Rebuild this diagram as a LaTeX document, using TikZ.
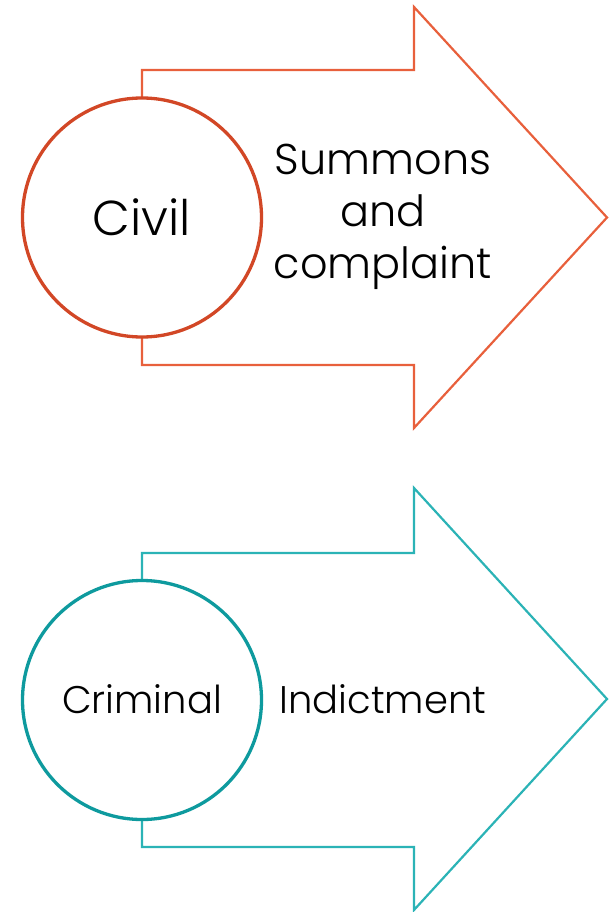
\documentclass[tikz,border=0pt]{standalone}
\usepackage{fontspec}
\setmainfont{Poppins Light}
\definecolor{civcirc}{HTML}{D24726}
\definecolor{civarrow}{HTML}{E8603C}
\definecolor{crimcirc}{HTML}{0E9A9E}
\definecolor{crimarrow}{HTML}{2BB3B6}
\begin{document}
\begin{tikzpicture}[x=1pt,y=-1pt,
  arrowshape/.style={line width=2.2pt, line join=miter, fill=white},
  circ/.style={circle, draw, line width=3.3pt, fill=white, minimum size=239pt, inner sep=0pt},
  lbl/.style={text=black, align=center, inner sep=0pt}]
\useasboundingbox (0,0) rectangle (608,912);
% civil
\draw[arrowshape, draw=civarrow] (142,70) -- (414,70) -- (414,7) -- (607,217.5) -- (414,428) -- (414,365) -- (142,365) -- cycle;
\node[circ, draw=civcirc] (civil) at (142,217.5) {};
\node[lbl, font=\fontsize{49}{56}\selectfont] (civiltxt) at (142,217) {Civil};
\node[lbl, font=\fontsize{43}{52}\selectfont] (summons) at (383,217) {Summons\\and\\complaint};
% criminal
\draw[arrowshape, draw=crimarrow] (142,553) -- (414,553) -- (414,488) -- (607,699) -- (414,910) -- (414,847) -- (142,847) -- cycle;
\node[circ, draw=crimcirc] (criminal) at (142,700) {};
\node[lbl, font=\fontsize{38.5}{46}\selectfont] (crimtxt) at (142,699) {Criminal};
\node[lbl, font=\fontsize{38.5}{46}\selectfont] (indict) at (383,699) {Indictment};
\end{tikzpicture}
\end{document}
